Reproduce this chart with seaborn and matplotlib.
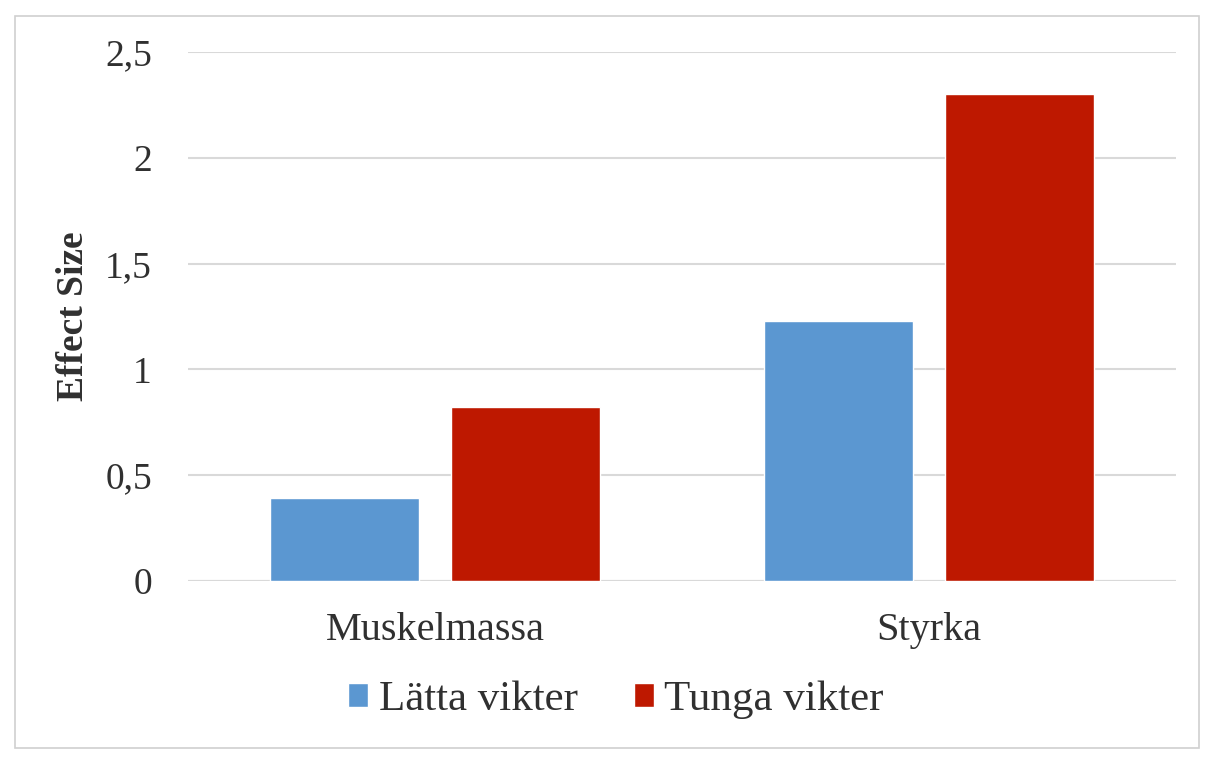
import pandas as pd
import numpy as np
import matplotlib
matplotlib.use('Agg')
import matplotlib.pyplot as plt
import seaborn as sns
from matplotlib.ticker import FuncFormatter
from matplotlib.patches import Rectangle

categories = ['Muskelmassa', 'Styrka']
series = ['Lätta vikter', 'Tunga vikter']
latta = [0.39, 1.23]
tunga = [0.82, 2.30]
colors = ['#5B97D1', '#BE1800']

df = pd.DataFrame({
    'Kategori': categories * 2,
    'Serie': [series[0]] * 2 + [series[1]] * 2,
    'Effect Size': latta + tunga,
})

sns.set_theme(style='white')
plt.rcParams['font.family'] = ['Liberation Serif', 'DejaVu Serif']
text_color = '#303030'

fig = plt.figure(figsize=(12.25, 7.68), dpi=100)
ax = fig.add_axes([188 / 1225, 1 - 581 / 768, (1176 - 188) / 1225, (581 - 52) / 768])

sns.barplot(data=df, x='Kategori', y='Effect Size', hue='Serie', palette=colors,
            width=0.733, gap=0.18, saturation=1, ax=ax, legend=True)

ax.set_ylim(0, 2.5)
ax.set_xlim(-0.5, 1.5)
ax.set_yticks([0, 0.5, 1, 1.5, 2, 2.5])
ax.yaxis.set_major_formatter(FuncFormatter(lambda v, _: f'{v:g}'.replace('.', ',')))
ax.grid(axis='y', color='#D9D9D9', linewidth=1.5)
ax.set_axisbelow(True)
for s in ax.spines.values():
    s.set_visible(False)
ax.axhline(0, color='#D9D9D9', linewidth=1.5, zorder=0)

ax.tick_params(axis='y', length=0, pad=26, labelsize=27, labelcolor=text_color)
ax.tick_params(axis='x', length=0, pad=22, labelsize=29, labelcolor=text_color)
ax.set_xlabel('')
ax.set_ylabel('Effect Size', fontsize=27, fontweight='bold', color=text_color, labelpad=10)

handles, labels = ax.get_legend_handles_labels()
ax.get_legend().remove()
fig.legend(handles, labels, loc='center', bbox_to_anchor=(616 / 1225, 1 - 700 / 768), ncol=2,
           frameon=False, fontsize=31, handlelength=0.47, handleheight=0.5,
           handletextpad=0.24, columnspacing=1.3, labelcolor=text_color)

fig.patches.append(Rectangle((15 / 1225, 1 - 748 / 768), (1199 - 15) / 1225, (748 - 16) / 768,
                             transform=fig.transFigure, fill=False, edgecolor='#D0D0D0',
                             linewidth=1.2))

fig.savefig('out.png', dpi=100)
